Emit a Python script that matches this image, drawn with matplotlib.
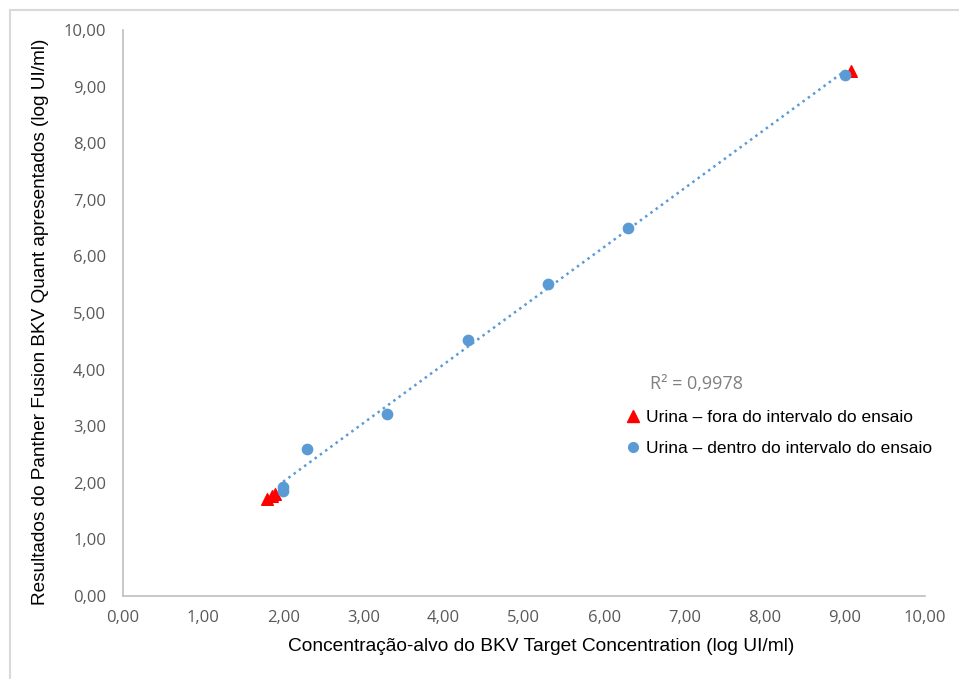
import matplotlib.pyplot as plt
import numpy as np
from matplotlib.lines import Line2D

# Dados
x_dentro = [2.0, 2.0, 2.3, 3.3, 4.3, 5.3, 6.3, 9.0]
y_dentro = [1.92, 1.85, 2.60, 3.22, 4.52, 5.52, 6.50, 9.20]
x_fora = [1.80, 1.86, 1.90, 9.08]
y_fora = [1.72, 1.76, 1.80, 9.28]
r2_text = "R² = 0,9978"

ticks = np.arange(0, 11, 1)
tick_labels = [f"{t:.2f}".replace(".", ",") for t in ticks]

fig = plt.figure(figsize=(9.59, 6.79), dpi=100)
ax = fig.add_axes([0.128, 0.1222, 0.8365, 0.8336])

# moldura cinza clara da área do gráfico (Excel)
fig.add_artist(Line2D([10 / 959, 1.0], [1 - 10 / 679] * 2, transform=fig.transFigure,
                      color="#d9d9d9", lw=1.5))
fig.add_artist(Line2D([10 / 959] * 2, [0, 1 - 10 / 679], transform=fig.transFigure,
                      color="#d9d9d9", lw=1.5))

# linha de tendência (pontilhada)
coef = np.polyfit(x_dentro, y_dentro, 1)
xs = np.array([min(x_dentro), max(x_dentro)])
ax.plot(xs, np.polyval(coef, xs), linestyle=(0, (1, 1.6)), color="#5b9bd5", lw=1.8, zorder=2)

ax.scatter(x_fora, y_fora, marker="^", s=70, color="#ff0000", zorder=3)
ax.scatter(x_dentro, y_dentro, marker="o", s=55, color="#5b9bd5", zorder=4)

ax.set_xlim(0, 10)
ax.set_ylim(0, 10)
ax.set_xticks(ticks)
ax.set_yticks(ticks)
ax.set_xticklabels(tick_labels, fontfamily="Open Sans", fontsize=12, color="#595959")
ax.set_yticklabels(tick_labels, fontfamily="Open Sans", fontsize=12, color="#595959")
ax.tick_params(axis="x", length=0, pad=10)
ax.tick_params(axis="y", length=0, pad=12)

for s in ["top", "right"]:
    ax.spines[s].set_visible(False)
for s in ["left", "bottom"]:
    ax.spines[s].set_color("#bfbfbf")
    ax.spines[s].set_linewidth(1.2)

ax.set_xlabel("Concentração-alvo do BKV Target Concentration (log UI/ml)",
              fontfamily="Liberation Sans", fontsize=13.8, color="black")
ax.set_ylabel("Resultados do Panther Fusion BKV Quant apresentados (log UI/ml)",
              fontfamily="Liberation Sans", fontsize=13.7, color="black")
ax.xaxis.set_label_coords(0.521, -0.074)
ax.yaxis.set_label_coords(-0.092, 0.484)

ax.text(6.57, 3.74, r2_text, fontfamily="Open Sans", fontsize=13, color="#808080",
        va="center")

handles = [
    Line2D([], [], marker="^", color="#ff0000", linestyle="none", markersize=9),
    Line2D([], [], marker="o", color="#5b9bd5", linestyle="none", markersize=7),
]
ax.legend(handles, ["Urina – fora do intervalo do ensaio", "Urina – dentro do intervalo do ensaio"],
          loc="upper left", bbox_to_anchor=(0.61, 0.351), frameon=False,
          prop={"family": "Liberation Sans", "size": 12.5}, handletextpad=0.25,
          labelspacing=0.95, handlelength=1.0, borderaxespad=0.3)

fig.savefig("out.png", dpi=100, facecolor="white")
